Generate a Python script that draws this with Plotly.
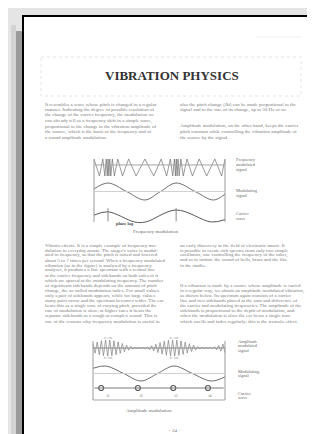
import plotly.graph_objects as go

W, H = 315, 434

# ---------------- data ----------------
title = "VIBRATION PHYSICS"

para1_left = [
    "It resembles a wave whose pitch is changed in a regular",
    "manner. Indicating the degree of possible resolution of",
    "the change of the carrier frequency, the modulation we",
    "can already tell as a frequency shift in a simple wave,",
    "proportional to the change in the vibration amplitude of",
    "the source, which is the basis of the frequency and of",
    "a sound amplitude modulation.",
]
para1_right = [
    "also the pitch change (Δf) can be made proportional to the",
    "signal and to the rate of its change, up to 50 Hz or so.",
    "",
    "",
    "Amplitude modulation, on the other hand, keeps the carrier",
    "pitch constant while controlling the vibration amplitude of",
    "the source by the signal.",
]
para2_left = [
    "Vibrato effects. It is a simple example of frequency mo-",
    "dulation in everyday music. The singer's voice is modul-",
    "ated in frequency, so that the pitch is raised and lowered",
    "about 5 to 7 times per second. When a frequency modulated",
    "vibration (as in the figure) is analysed by a frequency",
    "analyser, it produces a line spectrum with a central line",
    "at the carrier frequency and sidebands on both sides of it",
    "which are spaced at the modulating frequency. The number",
    "of significant sidebands depends on the amount of pitch",
    "change, the so-called modulation index. For small values",
    "only a pair of sidebands appears, while for large values",
    "many pairs occur and the spectrum becomes wider. The ear",
    "hears this as a single tone of varying pitch, provided the",
    "rate of modulation is slow; at higher rates it hears the",
    "separate sidebands as a rough or complex sound. This is",
    "one of the reasons why frequency modulation is useful in",
]
para2_right = [
    "an early discovery in the field of electronic music. It",
    "is possible to create rich spectra from only two simple",
    "oscillators, one controlling the frequency of the other,",
    "and so to imitate the sound of bells, brass and the like",
    "in the studio.",
    "",
    "",
    "",
    "If a vibration is made by a source whose amplitude is varied",
    "in a regular way, we obtain an amplitude modulated vibration,",
    "as shown below. Its spectrum again consists of a carrier",
    "line and two sidebands placed at the sum and difference of",
    "the carrier and modulating frequencies. The amplitude of the",
    "sidebands is proportional to the depth of modulation, and",
    "when the modulation is slow the ear hears a single tone",
    "which swells and fades regularly; this is the tremolo effect.",
]

fig1_caption = "Frequency modulation"
fig1_labels = [["Frequency", "modulated", "signal"], ["Modulating", "signal"], ["Carrier", "wave"]]
fig1_note = "phase lag"
fig2_caption = "Amplitude modulation"
fig2_labels = [["Amplitude", "modulated", "signal"], ["Modulating", "signal"], ["Carrier", "wave"]]
am_marks = ["fc+fm", "fc+fm", "fc−fm", "fc−fm"]
page_number = "- 24 -"

# figure 1 : frequency modulated signal (time of each extreme, ms) and level
fm_t = [0, 0.8, 1.3, 1.6, 1.8, 1.95, 2.07, 2.19, 2.32, 2.48, 2.7, 3.0, 3.5, 4.2,
        5.1, 6.2, 7.5, 8.8, 9.9, 10.7, 11.25, 11.6, 11.85, 12.0, 12.12, 12.24,
        12.38, 12.55, 12.8, 13.15, 13.7, 14.5, 15.5, 16.6, 17.8, 18.8, 19.3]
fm_v = [1, -1, 1, -1, 1, -1, 1, -1, 1, -1, 1, -1, 1, -1, 1, -1, 1, -1, 1, -1,
        1, -1, 1, -1, 1, -1, 1, -1, 1, -1, 1, -1, 1, -1, 1, -1, 1]
# figure 1 : modulating signal
mod1_t = [0, 2.06, 4.8, 7.5, 9.8, 12.1, 14.9, 17.6, 19.3]
mod1_v = [0.3, 1, 0, -1, 0, 1, 0, -1, -0.3]
# figure 1 : carrier / phase wave
car1_t = [0, 2.06, 6.0, 7.6, 12.1, 17.3, 19.3]
car1_v = [0.15, 0.7, -1, -1, 1, -1, -0.6]
fm_peak_t = [2.06, 12.1]

# figure 2 : amplitude envelope per half cycle of the carrier
am_env = [0.55, 0.65, 0.75, 0.84, 0.91, 0.96, 0.99, 1.0, 0.99, 0.96, 0.91, 0.84,
          0.76, 0.67, 0.57, 0.47, 0.37, 0.28, 0.2, 0.13, 0.08, 0.05, 0.03, 0.03,
          0.05, 0.09, 0.14, 0.21, 0.29, 0.38, 0.48, 0.58, 0.68, 0.77, 0.85, 0.91,
          0.96, 0.99, 1.0, 1.0, 0.98, 0.94, 0.88, 0.81, 0.73, 0.64, 0.54, 0.44,
          0.35, 0.26, 0.18, 0.12, 0.07, 0.04, 0.03, 0.04, 0.06, 0.1, 0.16, 0.23,
          0.31, 0.4, 0.5, 0.6]
am_mark_t = [2.2, 11.9, 2.2, 11.9]
am_mark_v = [1.25, 1.25, -1.25, -1.25]
# figure 2 : modulating signal
mod2_t = [0, 1.9, 4.5, 7.05, 9.5, 11.9, 14.6, 17.35, 19.4]
mod2_v = [0.7, 1, 0, -1, 0, 1, 0, -1, -0.45]
# figure 2 : carrier pulses
pulse_t = [1.2, 6.6, 11.8, 16.9]
pulse_lbl_t = [2.2, 7.1, 12.2, 17.2]
pulse_labels = ["t1", "t2", "t3", "t4"]

# ---------------- layout helpers ----------------
SERIF = "Liberation Serif"
TXT = "#7c7c7c"
WAVE = "#6e6e6e"


def ydom(center, scale, R):
    top, bot = center - R * scale, center + R * scale
    return [1 - bot / H, 1 - top / H]


def xdom(l, r):
    return [l / W, r / W]


fig = go.Figure()

layout = dict(
    width=W, height=H, margin=dict(l=0, r=0, t=0, b=0),
    paper_bgcolor="#e5e5e5", plot_bgcolor="rgba(0,0,0,0)",
    showlegend=False,
    xaxis=dict(range=[0, W], domain=[0, 1], visible=False, fixedrange=True),
    yaxis=dict(range=[H, 0], domain=[0, 1], visible=False, fixedrange=True),
)

axes = {
    2: (xdom(86, 217), [0, 19.3], ydom(159.5, 8.5, 1.3), [-1.3, 1.3]),
    3: (xdom(86, 217), [0, 19.3], ydom(183.5, 8.5, 1.3), [-1.3, 1.3]),
    4: (xdom(86, 217), [0, 19.3], ydom(208, 6.0, 1.4), [-1.4, 1.4]),
    5: (xdom(85, 217), [0, 19.4], ydom(340, 8.0, 1.4), [-1.4, 1.4]),
    6: (xdom(85, 217), [0, 19.4], ydom(365.5, 7.5, 1.3), [-1.3, 1.3]),
    7: (xdom(85, 217), [0, 19.4], ydom(380, 6.0, 2.0), [-2.0, 2.0]),
}
for k, (xd, xr, yd, yr) in axes.items():
    layout[f"xaxis{k}"] = dict(domain=xd, range=xr, visible=False, anchor=f"y{k}", fixedrange=True)
    layout[f"yaxis{k}"] = dict(domain=yd, range=yr, visible=False, anchor=f"x{k}", fixedrange=True)

shapes = []
shapes.append(dict(type="rect", xref="x", yref="y", x0=3, x1=8, y0=17, y1=440,
                   fillcolor="#d3d3d3", line=dict(width=0), layer="below"))
shapes.append(dict(type="rect", xref="x", yref="y", x0=8, x1=14.2, y0=23, y1=440,
                   fillcolor="#9b9b9b", line=dict(width=0), layer="below"))
shapes.append(dict(type="rect", xref="x", yref="y", x0=15, x1=345, y0=8, y1=460,
                   fillcolor="white", line=dict(color="black", width=2), layer="below"))
shapes.append(dict(type="line", xref="x", yref="y", x0=248, x1=293, y0=29, y1=29,
                   line=dict(color="#efefef", width=1), layer="below"))
shapes.append(dict(type="rect", xref="x", yref="y", x0=33, x1=293, y0=49, y1=88,
                   line=dict(color="#e4e4e4", width=1, dash="dot"), layer="below"))

for xv in (86, 217):
    shapes.append(dict(type="line", xref="x", yref="y", x0=xv, x1=xv, y0=151, y1=214,
                       line=dict(color="#9a9a9a", width=1)))
shapes.append(dict(type="line", xref="x2 domain", yref="y2", x0=0, x1=1, y0=0.3, y1=0.3,
                   line=dict(color="#a5a5a5", width=1)))
shapes.append(dict(type="line", xref="x3 domain", yref="y3", x0=0, x1=1, y0=0, y1=0,
                   line=dict(color="#d0d0d0", width=1)))
shapes.append(dict(type="rect", xref="x4 domain", yref="y4", x0=0, x1=1, y0=-0.85, y1=0.5,
                   fillcolor="#e6e6e6", line=dict(width=0), layer="below"))
for tv in fm_peak_t:
    shapes.append(dict(type="line", xref="x4", yref="y4", x0=tv, x1=tv, y0=-0.9, y1=1.3,
                       line=dict(color="#888888", width=1)))

for xv in (85, 217):
    shapes.append(dict(type="line", xref="x", yref="y", x0=xv, x1=xv, y0=333, y1=392,
                       line=dict(color="#9a9a9a", width=1)))
shapes.append(dict(type="line", xref="x", yref="y", x0=85, x1=217, y0=392, y1=392,
                   line=dict(color="#a5a5a5", width=1)))
shapes.append(dict(type="line", xref="x5 domain", yref="y5", x0=0, x1=1, y0=0, y1=0,
                   line=dict(color="#888888", width=1)))
shapes.append(dict(type="line", xref="x6 domain", yref="y6", x0=0, x1=1, y0=0, y1=0,
                   line=dict(color="#d0d0d0", width=1)))
shapes.append(dict(type="line", xref="x7 domain", yref="y7", x0=0.01, x1=0.99, y0=0, y1=0,
                   line=dict(color="#7a7a7a", width=1)))
layout["shapes"] = shapes

# ---------------- traces ----------------
fig.add_trace(go.Scatter(x=fm_t, y=fm_v, xaxis="x2", yaxis="y2", mode="lines",
                         line=dict(color=WAVE, width=0.7), hoverinfo="skip"))
fig.add_trace(go.Scatter(x=mod1_t, y=mod1_v, xaxis="x3", yaxis="y3", mode="lines",
                         line=dict(color=WAVE, width=1, shape="spline"), hoverinfo="skip"))
fig.add_trace(go.Scatter(x=car1_t, y=car1_v, xaxis="x4", yaxis="y4", mode="lines",
                         line=dict(color="#555555", width=1, shape="spline"), hoverinfo="skip"))

n = len(am_env)
am_x = [19.4 * i / (n - 1) for i in range(n)]
am_y = [e if i % 2 == 0 else -e for i, e in enumerate(am_env)]
fig.add_trace(go.Scatter(x=am_x, y=am_y, xaxis="x5", yaxis="y5", mode="lines",
                         line=dict(color="#808080", width=0.7), hoverinfo="skip"))
fig.add_trace(go.Scatter(x=am_mark_t, y=am_mark_v, xaxis="x5", yaxis="y5", mode="text",
                         text=am_marks, textfont=dict(size=3.5, color="#999999", family=SERIF),
                         hoverinfo="skip"))
fig.add_trace(go.Scatter(x=mod2_t, y=mod2_v, xaxis="x6", yaxis="y6", mode="lines",
                         line=dict(color=WAVE, width=1, shape="spline"), hoverinfo="skip"))
fig.add_trace(go.Scatter(x=pulse_t, y=[0] * len(pulse_t), xaxis="x7", yaxis="y7", mode="markers",
                         marker=dict(symbol="circle-open", size=5, color="#555555", line=dict(width=1.2)),
                         hoverinfo="skip"))
fig.add_trace(go.Scatter(x=pulse_lbl_t, y=[-1.3] * len(pulse_lbl_t), xaxis="x7", yaxis="y7",
                         mode="text", text=pulse_labels,
                         textfont=dict(size=4, color="#777777", family=SERIF), hoverinfo="skip"))

# ---------------- annotations (text) ----------------
ann = []


def txt(x, y, s, size=5, color=TXT, anchor="left", bold=False):
    if not s:
        return
    ann.append(dict(x=x, y=y, xref="x", yref="y", text=(f"<b>{s}</b>" if bold else s),
                    showarrow=False, xanchor=anchor, yanchor="middle",
                    font=dict(family=SERIF, size=size, color=color)))


txt(164, 67.5, title, size=13, color="#333333", anchor="center", bold=True)

for i, s in enumerate(para1_left):
    txt(35, 96 + 5.5 * i, s)
for i, s in enumerate(para1_right):
    txt(170, 96 + 5.5 * i, s)
for i, s in enumerate(para2_left):
    txt(35, 237 + 5.07 * i, s)
for i, s in enumerate(para2_right):
    txt(170, 237 + 5.07 * i, s)

for j, (ys, lines) in enumerate(zip([151, 182, 205], fig1_labels)):
    for k, s in enumerate(lines):
        txt(226, ys + 5 * k, s, size=4.5, color="#6a6a6a")
txt(117, 215.5, fig1_note, size=4.3, color="#444444", anchor="center", bold=True)
txt(148, 223, fig1_caption, size=5, color="#6a6a6a", anchor="center")

for j, (ys, lines) in enumerate(zip([333, 363, 385], fig2_labels)):
    for k, s in enumerate(lines):
        txt(228, ys + 4.6 * k, s, size=4.5, color="#6a6a6a")
txt(141, 402, fig2_caption, size=5, color="#6a6a6a", anchor="center")
txt(166, 422, page_number, size=5, color="#777777", anchor="center")

layout["annotations"] = ann
fig.update_layout(**layout)
fig.write_html("out.html")
